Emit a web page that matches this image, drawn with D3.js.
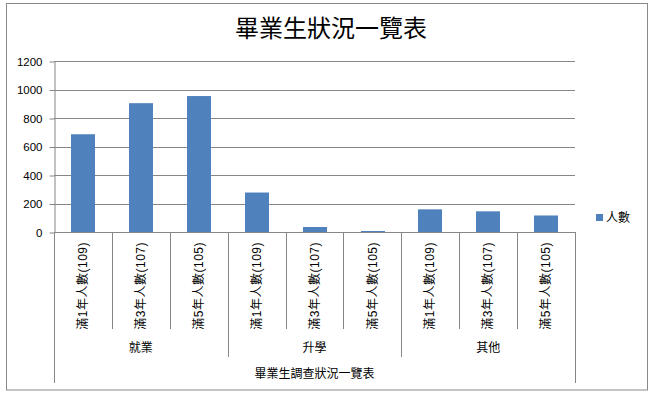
<!DOCTYPE html>
<html>
<head>
<meta charset="utf-8">
<script src="https://cdn.jsdelivr.net/npm/d3@7"></script>
<style>
body { margin: 0; background: #fff; }
svg text { font-family: "Liberation Sans", "Noto Sans CJK TC", sans-serif; fill: #000; }
</style>
</head>
<body>
<div id="chart"></div>
<script>
var chartTitle = "畢業生狀況一覽表";
var axisTitle = "畢業生調查狀況一覽表";
var seriesName = "人數";
var groups = ["就業", "升學", "其他"];
var subLabels = ["滿1年人數(109)", "滿3年人數(107)", "滿5年人數(105)"];
var values = [686, 904, 954, 277, 35, 7, 159, 145, 116];
var yTicks = [0, 200, 400, 600, 800, 1000, 1200];

var barColor = "#4F81BD";
var lineColor = "#868686";

var categories = [];
groups.forEach(function(g, gi){
  subLabels.forEach(function(s, si){
    categories.push({id: gi + "-" + si, group: g, label: s, value: values[gi*3+si]});
  });
});

var svg = d3.select("#chart").append("svg")
  .attr("width", 654).attr("height", 394);

// outer border
svg.append("rect")
  .attr("x", 6.5).attr("y", 3.5).attr("width", 641).attr("height", 386.5)
  .attr("fill", "#fff").attr("stroke", "#898989").attr("stroke-width", 1);

var plotLeft = 54, plotRight = 575, plotTop = 61, plotBottom = 232;

var x = d3.scaleBand()
  .domain(categories.map(function(d){ return d.id; }))
  .range([plotLeft, plotRight])
  .paddingInner(0.59)
  .paddingOuter(0.295);

var y = d3.scaleLinear().domain([0, 1200]).range([plotBottom, plotTop]);

// title
svg.append("text")
  .attr("x", 331).attr("y", 37)
  .attr("text-anchor", "middle")
  .style("font-family", "'Noto Sans CJK TC', sans-serif")
  .style("font-size", "24px")
  .text(chartTitle);

// gridlines
svg.append("g").selectAll("line")
  .data(yTicks.filter(function(d){ return d > 0; }))
  .enter().append("line")
  .attr("x1", plotLeft).attr("x2", plotRight)
  .attr("y1", function(d){ return Math.round(y(d)) + 0.5; })
  .attr("y2", function(d){ return Math.round(y(d)) + 0.5; })
  .attr("stroke", lineColor);

// y axis
var yAxis = svg.append("g")
  .attr("transform", "translate(" + (plotLeft + 0.5) + ",0.5)")
  .call(d3.axisLeft(y).tickValues(yTicks).tickFormat(d3.format("d"))
    .tickSize(5).tickSizeOuter(0).tickPadding(7));
yAxis.select(".domain").attr("stroke", lineColor);
yAxis.selectAll(".tick line").attr("stroke", lineColor);
yAxis.selectAll(".tick text")
  .style("font-size", "11.5px")
  .style("font-family", "'Liberation Sans', sans-serif")
  .attr("fill", "#000");

// bars
svg.append("g").selectAll("rect")
  .data(categories)
  .enter().append("rect")
  .attr("x", function(d){ return Math.round(x(d.id)); })
  .attr("y", function(d){ return y(d.value); })
  .attr("width", Math.round(x.bandwidth()))
  .attr("height", function(d){ return plotBottom - y(d.value); })
  .attr("fill", barColor);

// category axis line
svg.append("line")
  .attr("x1", plotLeft).attr("x2", plotRight)
  .attr("y1", plotBottom + 0.5).attr("y2", plotBottom + 0.5)
  .attr("stroke", lineColor);

// separators between categories
var step = x.step();
var seps = d3.range(10);
svg.append("g").selectAll("line")
  .data(seps)
  .enter().append("line")
  .attr("x1", function(i){ return Math.round(plotLeft + i * step) + 0.5; })
  .attr("x2", function(i){ return Math.round(plotLeft + i * step) + 0.5; })
  .attr("y1", plotBottom)
  .attr("y2", function(i){
    if (i === 0 || i === 9) return 383;
    if (i % 3 === 0) return 357;
    return 329;
  })
  .attr("stroke", lineColor);

// rotated category labels
svg.append("g").selectAll("text")
  .data(categories)
  .enter().append("text")
  .attr("transform", function(d){
    return "translate(" + (x(d.id) + x.bandwidth() / 2) + ",242) rotate(-90)";
  })
  .attr("text-anchor", "end")
  .attr("dy", "0.35em")
  .style("font-size", "12px")
  .style("letter-spacing", "0.5px")
  .text(function(d){ return d.label; });

// group labels
svg.append("g").selectAll("text")
  .data(groups)
  .enter().append("text")
  .attr("x", function(g, gi){ return plotLeft + (gi * 3 + 1.5) * step; })
  .attr("y", 352)
  .attr("text-anchor", "middle")
  .style("font-size", "12px")
  .text(function(g){ return g; });

// axis title
svg.append("text")
  .attr("x", (plotLeft + plotRight) / 2).attr("y", 378)
  .attr("text-anchor", "middle")
  .style("font-size", "12px")
  .text(axisTitle);

// legend
var legend = svg.append("g").attr("transform", "translate(596,214)");
legend.append("rect").attr("width", 7).attr("height", 7).attr("fill", barColor);
legend.append("text").attr("x", 10).attr("y", 4).attr("dy", "0.35em")
  .style("font-size", "12px").text(seriesName);
</script>
</body>
</html>
